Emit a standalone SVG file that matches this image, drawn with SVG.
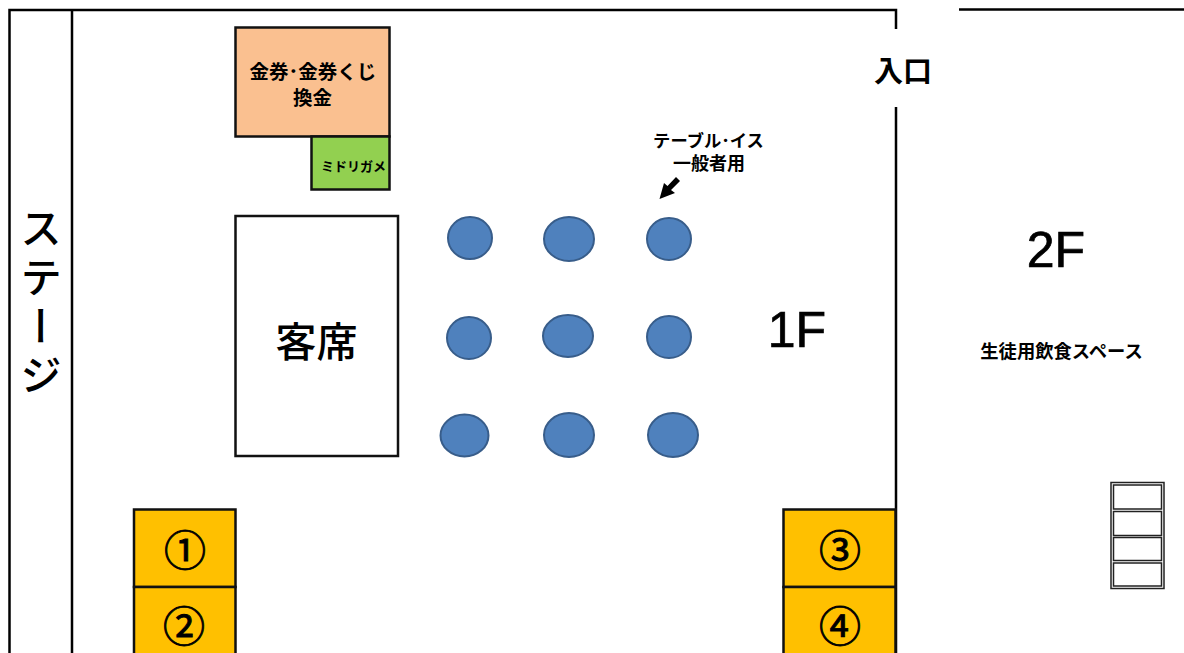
<svg xmlns="http://www.w3.org/2000/svg" width="1184" height="653" viewBox="0 0 1184 653">
<style>
text{font-family:"Noto Sans CJK JP","Liberation Sans",sans-serif;fill:#000;text-anchor:middle}
.lat{font-family:"Liberation Sans",sans-serif;stroke:#000;stroke-width:.7}
.wall{fill:none;stroke:#000;stroke-width:2.5}
.box{stroke:#111;stroke-width:2.5}
.t{fill:#4f81bd;stroke:#385d8a;stroke-width:2}
.y{fill:#ffc000;stroke:#111;stroke-width:2.5}
.s{fill:#fff;stroke:#222;stroke-width:1.5}
.b{font-weight:700}
.n{font-size:42px;stroke:#000;stroke-width:.9}
</style>
<rect width="1184" height="653" fill="#fff"/>
<g id="walls">
<path class="wall" d="M9.500 653V10H896V29M896 107V653M72 10V653M959 9.500H1184"/>
</g>
<g id="stage"><text font-size="42" font-weight="500" style="writing-mode:vertical-rl;text-anchor:start"><tspan x="41" y="207" letter-spacing="7">ステージ</tspan></text></g>
<g id="kinken"><rect class="box" x="235.500" y="27.500" width="154" height="109" fill="#fac090"/>
<text class="b" x="313" y="79" font-size="19.500">金券･金券くじ</text><text class="b" x="312.500" y="105" font-size="19.500">換金</text></g>
<g id="midorigame"><rect class="box" x="311.500" y="136.500" width="78" height="53" fill="#92d050"/>
<text class="b" x="353.500" y="171" font-size="13">ミドリガメ</text></g>
<g id="seats"><rect x="235.500" y="216" width="162.500" height="240" fill="#fff" stroke="#111" stroke-width="2.500"/>
<text x="316.500" y="357" font-size="41" font-weight="500">客席</text></g>
<g id="tables">
<ellipse class="t" cx="470" cy="238" rx="22" ry="21"/><ellipse class="t" cx="569" cy="239" rx="25" ry="22"/><ellipse class="t" cx="669" cy="239" rx="22" ry="21"/>
<ellipse class="t" cx="469" cy="338" rx="22" ry="21"/><ellipse class="t" cx="568" cy="336" rx="25" ry="21"/><ellipse class="t" cx="669" cy="337" rx="22" ry="21"/>
<ellipse class="t" cx="464.500" cy="435.500" rx="24" ry="21"/><ellipse class="t" cx="569" cy="435" rx="25" ry="22"/><ellipse class="t" cx="673" cy="435" rx="25" ry="22"/>
</g>
<g id="table-label"><text class="b" x="708.500" y="147" font-size="17.300">テーブル･イス</text><text class="b" x="709" y="170" font-size="18">一般者用</text>
<path d="M676 177L680 181L671 190L675 193L659.500 199L664 183L667.500 186Z" fill="#000"/></g>
<g id="entrance"><text class="b" x="903" y="82" font-size="29">入口</text></g>
<text class="lat" x="797" y="347" font-size="50">1F</text>
<text class="lat" x="1056" y="267" font-size="50">2F</text>
<text class="b" x="1061.500" y="358" font-size="18.300">生徒用飲食スペース</text>
<g id="booth1"><rect class="y" x="134" y="509.500" width="101.500" height="77.500"/><text class="n" x="185" y="566">①</text></g>
<g id="booth2"><rect class="y" x="134" y="587" width="101.500" height="70"/><text class="n" x="184" y="642">②</text></g>
<g id="booth3"><rect class="y" x="783.500" y="509.500" width="112" height="77.500"/><text class="n" x="840" y="566">③</text></g>
<g id="booth4"><rect class="y" x="783.500" y="587" width="112" height="70"/><text class="n" x="840" y="642">④</text></g>
<g id="stairs"><rect class="s" x="1111" y="482.500" width="53" height="106"/>
<rect class="s" x="1113.500" y="485" width="48" height="24"/><rect class="s" x="1113.500" y="511.500" width="48" height="24"/><rect class="s" x="1113.500" y="537.500" width="48" height="23"/><rect class="s" x="1113.500" y="563" width="48" height="23"/></g>
</svg>
